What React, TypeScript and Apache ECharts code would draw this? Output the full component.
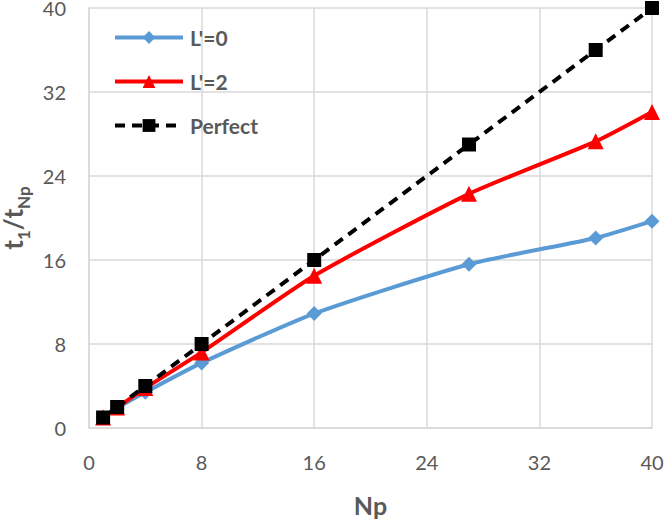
import React, { useEffect, useRef } from "react";
import * as echarts from "echarts";

const npValues = [1, 2, 4, 8, 16, 27, 36, 40];
const l0Values = [1, 1.9, 3.4, 6.2, 10.9, 15.6, 18.1, 19.7];
const l2Values = [1, 1.95, 3.8, 7.2, 14.5, 22.3, 27.3, 30.1];
const perfectValues = [1, 2, 4, 8, 16, 27, 36, 40];
const seriesNames = ["L'=0", "L'=2", "Perfect"];

const FONT = "Lato, 'Open Sans', sans-serif";
const LABEL_COLOR = "#595959";

export default function App() {
  const ref = useRef<HTMLDivElement>(null);
  useEffect(() => {
    if (!ref.current) return;
    const chart = echarts.init(ref.current, undefined, { renderer: "svg" });
    const pair = (ys: number[]) => npValues.map((x, i) => [x, ys[i]]);
    chart.setOption({
      animation: false,
      backgroundColor: "#ffffff",
      textStyle: { fontFamily: FONT },
      grid: { left: 89, right: 12, top: 8, bottom: 93, outerBoundsMode: "none", containLabel: false },
      legend: {
        left: 108,
        top: 22,
        orient: "vertical",
        itemGap: 23,
        itemWidth: 68,
        itemHeight: 16,
        data: seriesNames,
        lineStyle: { width: 4 },
        textStyle: { fontFamily: FONT, fontSize: 21, fontWeight: "bold", color: LABEL_COLOR, padding: [0, 0, 0, 2] },
      },
      xAxis: {
        type: "value",
        min: 0,
        max: 40,
        interval: 8,
        name: "Np",
        nameLocation: "middle",
        nameGap: 64,
        nameTextStyle: { fontFamily: FONT, fontSize: 25, fontWeight: "bold", color: LABEL_COLOR },
        axisLine: { show: true, lineStyle: { color: "#d9d9d9", width: 1.5 } },
        axisTick: { show: false },
        axisLabel: { fontFamily: FONT, fontSize: 20, color: LABEL_COLOR, margin: 24 },
        splitLine: { show: true, lineStyle: { color: "#d9d9d9", width: 1.5 } },
      },
      yAxis: {
        type: "value",
        min: 0,
        max: 40,
        interval: 8,
        name: "{m|t}{s|1}{m|/t}{s|Np}",
        nameLocation: "middle",
        nameGap: 46,
        nameRotate: 90,
        nameTextStyle: {
          rich: {
            m: { fontFamily: FONT, fontSize: 26, fontWeight: "bold", color: LABEL_COLOR, verticalAlign: "bottom" },
            s: { fontFamily: FONT, fontSize: 17, fontWeight: "bold", color: LABEL_COLOR, verticalAlign: "bottom", padding: [0, 0, -6, 0] },
          },
        },
        axisLine: { show: true, lineStyle: { color: "#d9d9d9", width: 1.5 } },
        axisTick: { show: false },
        axisLabel: { fontFamily: FONT, fontSize: 20, color: LABEL_COLOR, margin: 23 },
        splitLine: { show: true, lineStyle: { color: "#d9d9d9", width: 1.5 } },
      },
      series: [
        {
          name: seriesNames[0],
          type: "line",
          data: pair(l0Values),
          symbol: "diamond",
          symbolSize: 15,
          smooth: 0.2,
          itemStyle: { color: "#5B9BD5" },
          lineStyle: { color: "#5B9BD5", width: 4 },
          z: 3,
        },
        {
          name: seriesNames[1],
          type: "line",
          data: pair(l2Values),
          symbol: "triangle",
          symbolSize: 16,
          smooth: 0.2,
          itemStyle: { color: "#FF0000" },
          lineStyle: { color: "#FF0000", width: 4 },
          z: 4,
        },
        {
          name: seriesNames[2],
          type: "line",
          data: pair(perfectValues),
          symbol: "rect",
          symbolSize: 14,
          itemStyle: { color: "#000000" },
          lineStyle: { color: "#000000", width: 4, type: [10, 7] },
          z: 5,
        },
      ],
    });
    return () => chart.dispose();
  }, []);
  return (
    <div
      ref={ref}
      style={{ position: "absolute", left: 0, top: 0, width: 664, height: 521, background: "#fff" }}
    />
  );
}
